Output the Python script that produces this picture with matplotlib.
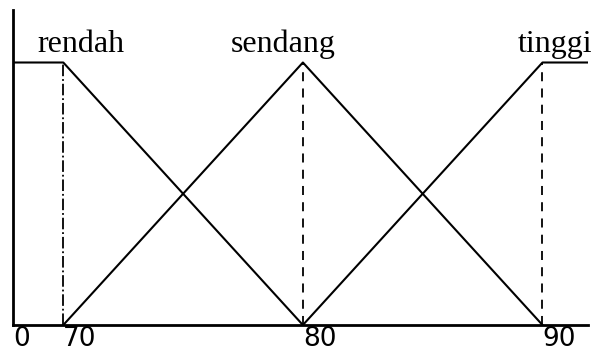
import numpy as np
import matplotlib.pyplot as plt

# membership functions (x in real units, left edge stands for "0")
x_left = 67.9
x_right = 91.9
rendah_x = [x_left, 70, 80]
rendah_y = [1, 1, 0]
sendang_x = [70, 80, 90]
sendang_y = [0, 1, 0]
tinggi_x = [80, 90, x_right]
tinggi_y = [0, 1, 1]
tick_pos = [x_left, 70, 80, 90]
tick_labels = ['0', '70', '80', '90']
names = ['rendah', 'sendang', 'tinggi']
name_x = [70.74, 79.17, 90.53]

fig = plt.figure(figsize=(5.93, 3.54), dpi=100)
ax = fig.add_axes([13 / 593, 29 / 354, 575 / 593, 315 / 354])

ax.plot(rendah_x, rendah_y, color='black', lw=1.5)
ax.plot(sendang_x, sendang_y, color='black', lw=1.5)
ax.plot(tinggi_x, tinggi_y, color='black', lw=1.5)

ax.plot([70, 70], [0, 1], color='black', lw=1.3, ls='-.')
ax.plot([80, 80], [0, 1], color='black', lw=1.3, ls=(0, (5, 4)))
ax.plot([90, 90], [0, 1], color='black', lw=1.3, ls=(0, (5, 4)))

for n, xx in zip(names, name_x):
    ax.text(xx, 1.04, n, ha='center', va='baseline', fontsize=23,
            family='Liberation Serif')

ax.set_xlim(x_left, x_right)
ax.set_ylim(0, 1.2)
for s in ['top', 'right']:
    ax.spines[s].set_visible(False)
ax.spines['left'].set_linewidth(2)
ax.spines['bottom'].set_linewidth(2)
ax.set_yticks([])
ax.set_xticks(tick_pos)
ax.set_xticklabels(tick_labels, fontsize=19, ha='left')
ax.tick_params(axis='x', length=0, pad=1)

fig.savefig('out.png', dpi=100)
